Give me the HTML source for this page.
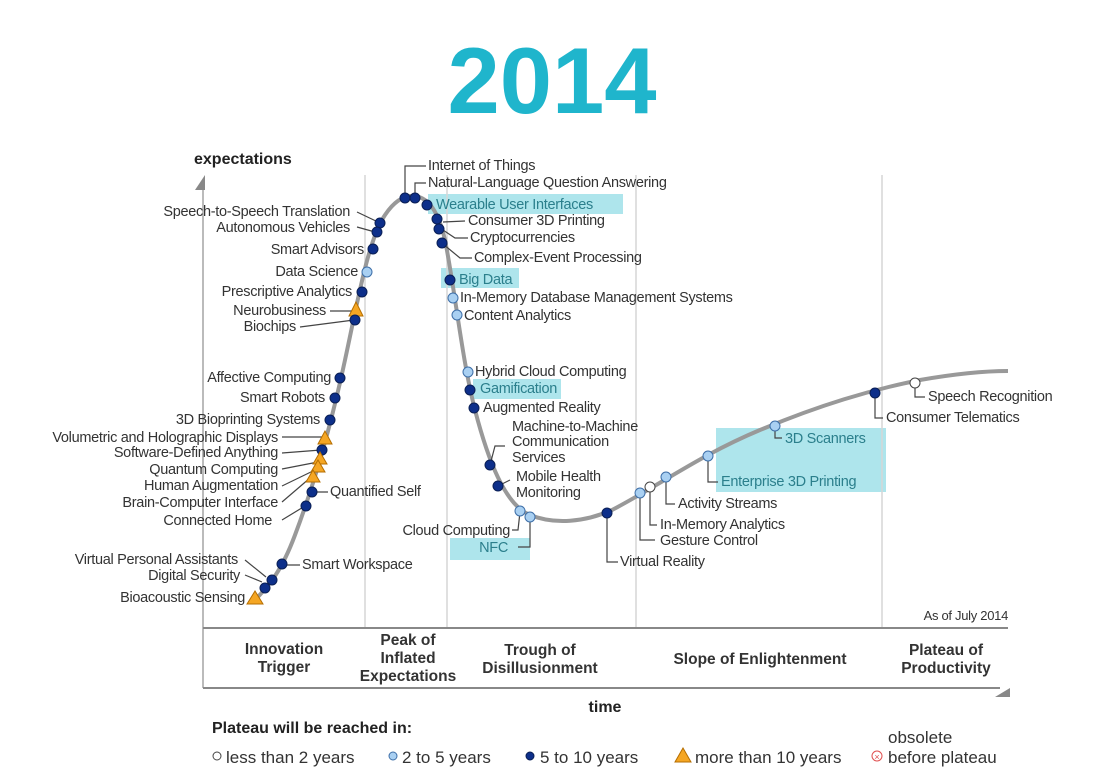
<!DOCTYPE html>
<html><head><meta charset="utf-8"><style>
html,body{margin:0;padding:0;background:#fff;}
svg{display:block;font-family:"Liberation Sans",Arial,sans-serif;}
.t{font-size:14.5px;fill:#333;letter-spacing:-0.3px}
.h{font-size:14.5px;fill:#2b7f8c;letter-spacing:-0.3px}
.l{fill:none;stroke:#444;stroke-width:1.2}
.d{fill:#0d2f8a;stroke:#0a1f55;stroke-width:1}
.c{fill:#a9d0f2;stroke:#3e6fa8;stroke-width:1}
.w{fill:#fff;stroke:#444;stroke-width:1}
.tr{fill:#f5a623;stroke:#b56e00;stroke-width:1}
.ph{font-size:15.5px;font-weight:bold;fill:#333;text-anchor:middle}
.lg{font-size:17px;fill:#333}
</style></head><body>
<svg width="1108" height="772" viewBox="0 0 1108 772">
<text x="552" y="113" text-anchor="middle" font-size="94" font-weight="bold" fill="#1fb5cc">2014</text>
<g fill="#aee5ec">
<rect x="428" y="194" width="195" height="20"/>
<rect x="441" y="268" width="78" height="20"/>
<rect x="473" y="379" width="88" height="20"/>
<rect x="716" y="428" width="170" height="64"/>
<rect x="450" y="538" width="80" height="22"/>
</g>
<g stroke="#d6d6d6" stroke-width="1.5">
<line x1="365" y1="175" x2="365" y2="628"/>
<line x1="447" y1="175" x2="447" y2="628"/>
<line x1="636" y1="175" x2="636" y2="628"/>
<line x1="882" y1="175" x2="882" y2="628"/>
</g>
<line x1="203" y1="190" x2="203" y2="688" stroke="#bbb" stroke-width="2"/>
<polygon points="195,190 205,175 205,190" fill="#888"/>
<line x1="203" y1="628" x2="1008" y2="628" stroke="#888" stroke-width="2"/>
<line x1="203" y1="688" x2="1000" y2="688" stroke="#888" stroke-width="2"/>
<polygon points="995,697 1010,688 1010,697" fill="#888"/>
<text x="194" y="164" font-size="16" font-weight="bold" fill="#222">expectations</text>
<text x="605" y="712" font-size="16" font-weight="bold" fill="#222" text-anchor="middle">time</text>
<text x="1008" y="620" font-size="13" fill="#333" text-anchor="end" letter-spacing="-0.3">As of July 2014</text>
<path d="M252,603 C270,585 282,570 295,535 C312,490 330,430 345,360 C358,300 368,240 385,215 C395,200 405,195 415,196 C428,198 438,210 445,240 C455,290 462,360 475,410 C488,460 505,505 530,515 C555,525 585,522 612,510 C660,485 700,455 760,430 C820,405 870,390 920,380 C960,373 990,371 1008,371" fill="none" stroke="#999" stroke-width="4"/>
<g class="l">
<path d="M405,198 V166 H426"/><path d="M415,198 V183 H426"/>
<path d="M357,212 L378,222"/><path d="M357,227 L375,232"/>
<path d="M330,311 L352,311"/><path d="M300,327 L354,320"/>
<path d="M282,437 L322,437"/><path d="M282,453 L321,450"/><path d="M282,469 L318,462"/><path d="M282,486 L315,470"/><path d="M282,502 L310,478"/><path d="M282,520 L305,506"/>
<path d="M245,560 L266,577"/><path d="M245,575 L262,582"/>
<path d="M310,492 L328,492"/><path d="M283,565 L300,565"/>
<path d="M443,222 L465,221"/><path d="M443,230 L455,238 H468"/><path d="M443,244 L460,258 H472"/>
<path d="M490,465 L495,446 H505"/><path d="M498,486 L510,480"/>
<path d="M520,512 L518,530 H512"/><path d="M530,518 V547 H518"/>
<path d="M607,513 V562 H618"/>
<path d="M640,494 V540 H655"/><path d="M650,488 V525 H657"/><path d="M666,478 V504 H675"/>
<path d="M708,456 V482 H718"/><path d="M775,427 V438 H782"/>
<path d="M875,393 V418 H883"/><path d="M915,383 V397 H925"/>
</g>
<g>
<circle class="d" cx="405" cy="198" r="5"/><circle class="d" cx="415" cy="198" r="5"/>
<circle class="d" cx="427" cy="205" r="5"/><circle class="d" cx="437" cy="219" r="5"/><circle class="d" cx="439" cy="229" r="5"/><circle class="d" cx="442" cy="243" r="5"/>
<circle class="d" cx="380" cy="223" r="5"/><circle class="d" cx="377" cy="232" r="5"/><circle class="d" cx="373" cy="249" r="5"/>
<circle class="c" cx="367" cy="272" r="5"/><circle class="d" cx="362" cy="292" r="5"/>
<polygon class="tr" points="356,302 349,316 363,316"/><circle class="d" cx="355" cy="320" r="5"/>
<circle class="d" cx="340" cy="378" r="5"/><circle class="d" cx="335" cy="398" r="5"/><circle class="d" cx="330" cy="420" r="5"/>
<polygon class="tr" points="325,431 318,444 332,444"/><circle class="d" cx="322" cy="450" r="5"/>
<polygon class="tr" points="320,452 313,464 327,464"/><polygon class="tr" points="318,460 311,472 325,472"/><polygon class="tr" points="313,470 306,482 320,482"/>
<circle class="d" cx="312" cy="492" r="5"/><circle class="d" cx="306" cy="506" r="5"/>
<circle class="d" cx="282" cy="564" r="5"/><circle class="d" cx="272" cy="580" r="5"/><circle class="d" cx="265" cy="588" r="5"/>
<polygon class="tr" points="255,591 247,604 263,604"/>
<circle class="d" cx="450" cy="280" r="5"/><circle class="c" cx="453" cy="298" r="5"/><circle class="c" cx="457" cy="315" r="5"/>
<circle class="c" cx="468" cy="372" r="5"/><circle class="d" cx="470" cy="390" r="5"/><circle class="d" cx="474" cy="408" r="5"/>
<circle class="d" cx="490" cy="465" r="5"/><circle class="d" cx="498" cy="486" r="5"/>
<circle class="c" cx="520" cy="511" r="5"/><circle class="c" cx="530" cy="517" r="5"/>
<circle class="d" cx="607" cy="513" r="5"/>
<circle class="c" cx="640" cy="493" r="5"/><circle class="w" cx="650" cy="487" r="5"/><circle class="c" cx="666" cy="477" r="5"/>
<circle class="c" cx="708" cy="456" r="5"/><circle class="c" cx="775" cy="426" r="5"/>
<circle class="d" cx="875" cy="393" r="5"/><circle class="w" cx="915" cy="383" r="5"/>
</g>
<g class="t">
<text x="428" y="170">Internet of Things</text>
<text x="428" y="187">Natural-Language Question Answering</text>
<text x="468" y="225">Consumer 3D Printing</text>
<text x="470" y="242">Cryptocurrencies</text>
<text x="474" y="262">Complex-Event Processing</text>
<text x="460" y="302">In-Memory Database Management Systems</text>
<text x="464" y="320">Content Analytics</text>
<text x="475" y="376">Hybrid Cloud Computing</text>
<text x="483" y="412">Augmented Reality</text>
<text x="512" y="431">Machine-to-Machine</text>
<text x="512" y="446">Communication</text>
<text x="512" y="462">Services</text>
<text x="516" y="481">Mobile Health</text>
<text x="516" y="497">Monitoring</text>
<text x="510" y="535" text-anchor="end">Cloud Computing</text>
<text x="620" y="566">Virtual Reality</text>
<text x="660" y="529">In-Memory Analytics</text>
<text x="660" y="545">Gesture Control</text>
<text x="678" y="508">Activity  Streams</text>
<text x="928" y="401">Speech Recognition</text>
<text x="886" y="422">Consumer Telematics</text>
<text x="330" y="496">Quantified Self</text>
<text x="302" y="569">Smart Workspace</text>
</g>
<g class="t" text-anchor="end">
<text x="350" y="216">Speech-to-Speech Translation</text>
<text x="350" y="232">Autonomous Vehicles</text>
<text x="364" y="254">Smart Advisors</text>
<text x="358" y="276">Data Science</text>
<text x="352" y="296">Prescriptive Analytics</text>
<text x="326" y="315">Neurobusiness</text>
<text x="296" y="331">Biochips</text>
<text x="331" y="382">Affective  Computing</text>
<text x="325" y="402">Smart Robots</text>
<text x="320" y="424">3D Bioprinting Systems</text>
<text x="278" y="442">Volumetric and Holographic Displays</text>
<text x="278" y="457">Software-Defined Anything</text>
<text x="278" y="474">Quantum Computing</text>
<text x="278" y="490">Human Augmentation</text>
<text x="278" y="507">Brain-Computer Interface</text>
<text x="272" y="525">Connected Home</text>
<text x="238" y="564">Virtual Personal Assistants</text>
<text x="240" y="580">Digital Security</text>
<text x="245" y="602">Bioacoustic Sensing</text>
</g>
<g class="h">
<text x="436" y="209">Wearable User Interfaces</text>
<text x="459" y="284">Big Data</text>
<text x="480" y="393">Gamification</text>
<text x="785" y="443">3D Scanners</text>
<text x="721" y="486">Enterprise 3D Printing</text>
<text x="508" y="552" text-anchor="end">NFC</text>
</g>
<text class="ph" x="284" y="654">Innovation</text><text class="ph" x="284" y="672">Trigger</text>
<text class="ph" x="408" y="645">Peak of</text><text class="ph" x="408" y="663">Inflated</text><text class="ph" x="408" y="681">Expectations</text>
<text class="ph" x="540" y="655">Trough of</text><text class="ph" x="540" y="673">Disillusionment</text>
<text class="ph" x="760" y="664">Slope of Enlightenment</text>
<text class="ph" x="946" y="655">Plateau of</text><text class="ph" x="946" y="673">Productivity</text>
<text x="212" y="733" font-size="16" font-weight="bold" fill="#222">Plateau will be reached in:</text>
<circle cx="217" cy="756" r="4" fill="#fff" stroke="#444"/><text class="lg" x="226" y="763">less than 2 years</text>
<circle cx="393" cy="756" r="4" class="c"/><text class="lg" x="402" y="763">2 to 5 years</text>
<circle cx="530" cy="756" r="4" class="d"/><text class="lg" x="540" y="763">5 to 10 years</text>
<polygon class="tr" points="683,748 675,762 691,762"/><text class="lg" x="695" y="763">more than 10 years</text>
<circle cx="877" cy="756" r="5" fill="#fff" stroke="#e05050"/><text x="877" y="760" font-size="9" fill="#e05050" text-anchor="middle">×</text>
<text class="lg" x="888" y="743">obsolete</text><text class="lg" x="888" y="763">before plateau</text>
</svg>
</body></html>
